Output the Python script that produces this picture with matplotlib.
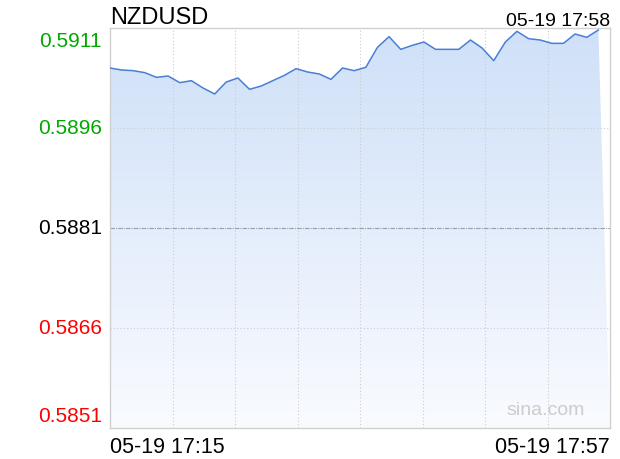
import matplotlib
matplotlib.use('Agg')
import matplotlib.pyplot as plt
import numpy as np
from matplotlib.colors import LinearSegmentedColormap

plt.rcParams['font.family'] = ['Liberation Sans', 'DejaVu Sans']

symbol = 'NZDUSD'
update_time = '05-19 17:58'
x_labels = ['05-19 17:15', '05-19 17:57']
prev_close = 0.5881
y_ticks = [0.5851, 0.5866, 0.5881, 0.5896, 0.5911]
y_tick_labels = ['0.5851', '0.5866', '0.5881', '0.5896', '0.5911']

# one point per minute, 17:15 .. 17:57
prices = [0.59050, 0.59047, 0.59046, 0.59043, 0.59036, 0.59038, 0.59028,
          0.59031, 0.59020, 0.59011, 0.59029, 0.59035, 0.59018, 0.59023,
          0.59031, 0.59039, 0.59049, 0.59044, 0.59041, 0.59033, 0.59050,
          0.59046, 0.59051, 0.59081, 0.59097, 0.59078, 0.59084, 0.59089,
          0.59078, 0.59078, 0.59078, 0.59092, 0.59080, 0.59061, 0.59089,
          0.59105, 0.59094, 0.59092, 0.59087, 0.59087, 0.59101, 0.59096,
          0.59107]

n = len(prices)
x = np.arange(n)
ymin, ymax = y_ticks[0], y_ticks[-1]
xmax = n  # one empty slot on the right

fig = plt.figure(figsize=(6.2, 4.6), dpi=100)
ax = fig.add_axes([110/620, 31/460, 500/620, 400/460])
ax.set_xlim(0, xmax)
ax.set_ylim(ymin, ymax)

# gradient fill under the line
cmap = LinearSegmentedColormap.from_list('fill', ['#f9fbff', '#cfe0f8'])
grad = np.linspace(0, 1, 256).reshape(-1, 1)
img = ax.imshow(grad, cmap=cmap, aspect='auto', origin='lower',
                extent=[0, xmax, ymin, ymax], zorder=1)
px = list(x) + [xmax, 0]
py = list(prices) + [ymin, ymin]
poly = plt.Polygon(np.column_stack([px, py]), closed=True,
                   facecolor='none', edgecolor='none')
ax.add_patch(poly)
img.set_clip_path(poly)

ax.plot(x, prices, color='#4a7fd4', lw=1.1, zorder=3)

# grid
for xv in np.linspace(0, xmax, 9)[1:-1]:
    ax.axvline(xv, color='#cccccc', lw=0.8, ls=(0, (1, 2)), zorder=2)
for yv in [0.5866, 0.5896]:
    ax.axhline(yv, color='#cccccc', lw=0.8, ls=(0, (1, 2)), zorder=2)
ax.axhline(prev_close, color='#9a9aaa', lw=0.8, ls=(0, (4, 1, 1, 1)), zorder=2)

for s in ax.spines.values():
    s.set_color('#d0d0d0')
    s.set_linewidth(1.0)
ax.set_xticks([])
ax.set_yticks([])

# y labels
colors = ['#ff0000', '#ff0000', '#000000', '#00a800', '#00a800']
for yv, lab, c in zip(y_ticks, y_tick_labels, colors):
    off = 0
    if yv == ymax:
        off = -13
    elif yv == ymin:
        off = 12
    ax.annotate(lab, (0, yv), xycoords=('axes fraction', 'data'),
                xytext=(-8, off), textcoords='offset pixels',
                ha='right', va='center', fontsize=15, color=c)

# x labels
ax.text(0, -0.02, x_labels[0], transform=ax.transAxes, ha='left', va='top',
        fontsize=15.5)
ax.text(1, -0.02, x_labels[1], transform=ax.transAxes, ha='right', va='top',
        fontsize=15.5)

fig.text(110/620, 1 - 24/460, symbol, ha='left', va='baseline', fontsize=17)
fig.text(610/620, 1 - 26/460, update_time, ha='right', va='baseline',
         fontsize=14)
ax.text(0.95, 0.045, 'sina.com', transform=ax.transAxes, ha='right',
        va='center', fontsize=14, color='#cccccc')

fig.savefig('out.png', dpi=100)
